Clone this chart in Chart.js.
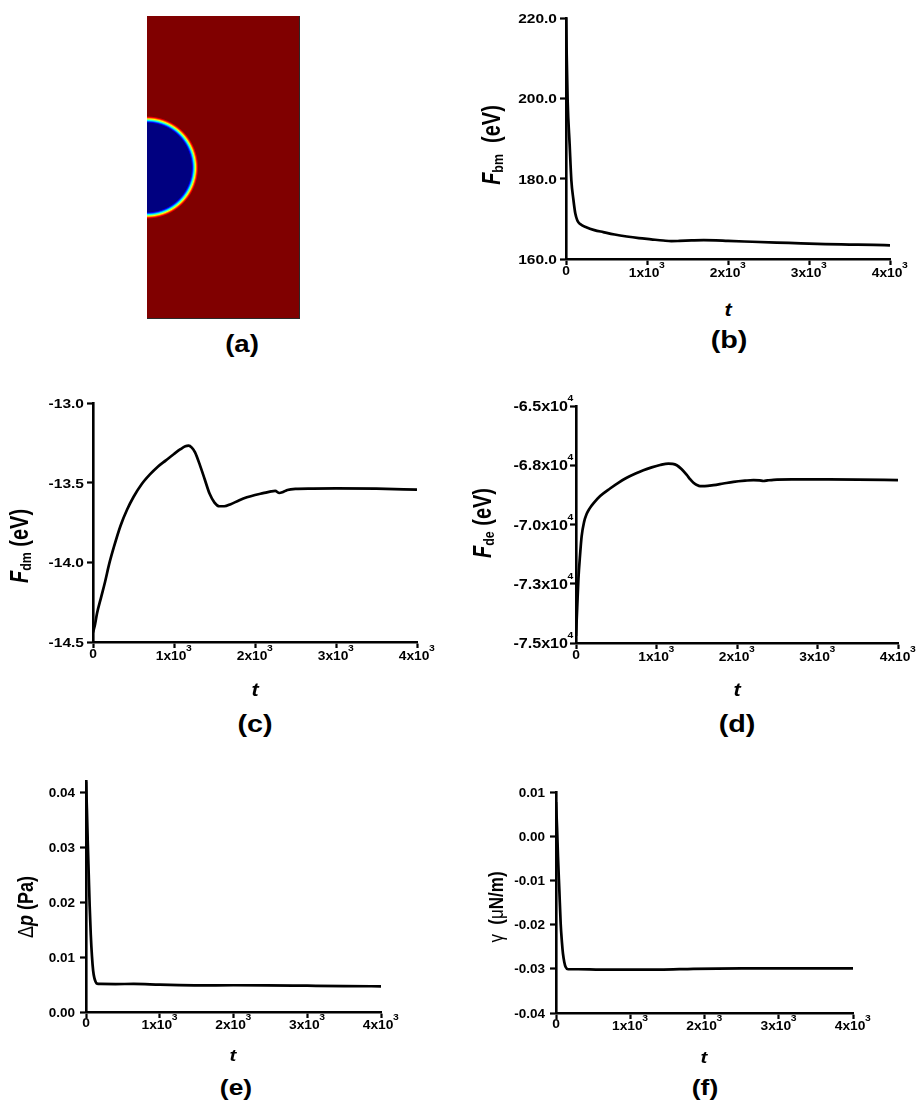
<!DOCTYPE html>
<html><head><meta charset="utf-8">
<script src="https://cdn.jsdelivr.net/npm/chart.js@4/dist/chart.umd.min.js"></script>
<style>
html,body{margin:0;padding:0;background:#fff;}
body{width:920px;height:1101px;overflow:hidden;position:relative;font-family:"Liberation Sans",Arial,sans-serif;color:#000;}
canvas{position:absolute;}
.lbl{position:absolute;width:0;height:0;transform-origin:0 0;}
.lbl span{position:absolute;left:0;top:0;white-space:nowrap;transform:translate(-50%,-50%);font-weight:bold;line-height:1;}
.lbl sub{font-size:0.62em;vertical-align:-0.2em;}
.lbl .g{font-weight:normal;}
</style></head><body>
<canvas id="ca" width="170" height="315" style="left:140px;top:10px"></canvas>
<canvas id="cb" width="450" height="300" style="left:470px;top:0px"></canvas>
<canvas id="cc" width="460" height="310" style="left:0px;top:380px"></canvas>
<canvas id="cd" width="460" height="310" style="left:460px;top:380px"></canvas>
<canvas id="ce" width="460" height="290" style="left:0px;top:760px"></canvas>
<canvas id="cf" width="460" height="290" style="left:460px;top:760px"></canvas>
<script>
// ---------------- DATA ----------------
// (a) phase field: bubble at the left wall of the domain
const domainX = [0, 1];
const domainY = [0, 2];
const bubbleCenter = [0, 1.0];
const bubbleRadius = 0.313;
const interfaceWidth = 0.046;

// shared time ticks
const timeTicks = [0, 1000, 2000, 3000, 4000];
const timeTickLabels = [["0",""], ["1x10","3"], ["2x10","3"], ["3x10","3"], ["4x10","3"]];

// (b) F_bm
const tB = [0, 20, 45, 66, 90, 115, 140, 175, 250, 350, 460, 600, 750, 900, 1050, 1200, 1300, 1400, 1550, 1700, 1850, 2000, 2300, 2600, 2900, 3200, 3500, 3800, 4000];
const fBm = [220, 199.5, 188.5, 179.6, 175.0, 171.3, 169.6, 168.7, 167.9, 167.2, 166.7, 166.1, 165.6, 165.2, 164.9, 164.6, 164.45, 164.5, 164.62, 164.7, 164.65, 164.5, 164.3, 164.1, 163.9, 163.7, 163.6, 163.5, 163.4];
const bTicksY = [160, 180, 200, 220];
const bTickLabelsY = [["160.0",""], ["180.0",""], ["200.0",""], ["220.0",""]];

// (c) F_dm
const tC = [0, 25, 50, 100, 150, 200, 260, 340, 420, 500, 600, 700, 800, 900, 1000, 1080, 1140, 1180, 1220, 1260, 1320, 1380, 1440, 1500, 1560, 1620, 1700, 1800, 1900, 2000, 2100, 2200, 2250, 2300, 2340, 2400, 2500, 2700, 3000, 3500, 4000];
const fDm = [-14.44, -14.39, -14.32, -14.22, -14.12, -14.01, -13.90, -13.77, -13.67, -13.59, -13.51, -13.45, -13.40, -13.36, -13.32, -13.29, -13.272, -13.268, -13.28, -13.31, -13.39, -13.48, -13.57, -13.625, -13.648, -13.648, -13.635, -13.612, -13.592, -13.577, -13.566, -13.555, -13.552, -13.565, -13.56, -13.546, -13.539, -13.537, -13.536, -13.538, -13.544];
const cTicksY = [-14.5, -14.0, -13.5, -13.0];
const cTickLabelsY = [["-14.5",""], ["-14.0",""], ["-13.5",""], ["-13.0",""]];

// (d) F_de
const tD = [0, 15, 30, 50, 70, 100, 133, 170, 216, 300, 423, 530, 630, 740, 837, 940, 1045, 1148, 1200, 1252, 1310, 1376, 1420, 1459, 1500, 1542, 1600, 1708, 1830, 1956, 2100, 2205, 2280, 2329, 2380, 2454, 2700, 3117, 3500, 4000];
const fDe = [-74700, -73500, -72300, -71300, -70500, -69900, -69550, -69320, -69110, -68800, -68480, -68230, -68030, -67850, -67710, -67590, -67490, -67430, -67440, -67500, -67660, -67910, -68100, -68240, -68330, -68380, -68380, -68340, -68270, -68200, -68150, -68125, -68140, -68165, -68140, -68113, -68100, -68099, -68105, -68127];
const dTicksY = [-75000, -72500, -70000, -67500, -65000];
const dTickLabelsY = [["-7.5x10","4"], ["-7.3x10","4"], ["-7.0x10","4"], ["-6.8x10","4"], ["-6.5x10","4"]];

// (e) Delta p
const tE = [0, 12, 23, 37, 50, 65, 81, 97, 113, 130, 149, 200, 400, 646, 1000, 1548, 2000, 2451, 3000, 3500, 4000];
const dP = [0.0419, 0.037, 0.0313, 0.025, 0.0192, 0.014, 0.0101, 0.0075, 0.0062, 0.0055, 0.00515, 0.0051, 0.00508, 0.0051, 0.00498, 0.00485, 0.00486, 0.00485, 0.00478, 0.00472, 0.00467];
const eTicksY = [0, 0.01, 0.02, 0.03, 0.04];
const eTickLabelsY = [["0.00",""], ["0.01",""], ["0.02",""], ["0.03",""], ["0.04",""]];

// (f) gamma
const tF = [0, 14, 27, 45, 63, 80, 94, 112, 130, 162, 300, 600, 949, 1399, 1849, 2500, 3200, 4000];
const gam = [0.0077, 0.0020, -0.0047, -0.0122, -0.0198, -0.0240, -0.0266, -0.0285, -0.0296, -0.0301, -0.0301, -0.0302, -0.0302, -0.0302, -0.0300, -0.0299, -0.0299, -0.0299];
const fTicksY = [-0.04, -0.03, -0.02, -0.01, 0.00, 0.01];
const fTickLabelsY = [["-0.04",""], ["-0.03",""], ["-0.02",""], ["-0.01",""], ["0.00",""], ["0.01",""]];

// ---------------- PLUGINS ----------------
const FONT = '"Liberation Sans", Arial, sans-serif';

const tickTextPlugin = {
  id: 'tickText',
  afterDraw(chart, args, opts) {
    const ctx = chart.ctx;
    ['x', 'y'].forEach(id => {
      const cfg = opts[id];
      if (!cfg) return;
      const scale = chart.scales[id];
      scale.ticks.forEach((t, i) => {
        const lab = cfg.labels[i];
        if (!lab) return;
        const pos = scale.getPixelForValue(t.value);
        ctx.save();
        ctx.fillStyle = '#000';
        ctx.textBaseline = 'alphabetic';
        ctx.textAlign = 'left';
        ctx.font = 'bold ' + cfg.size + 'px ' + FONT;
        const wb = ctx.measureText(lab[0]).width;
        let ws = 0;
        if (lab[1]) { ctx.font = 'bold ' + cfg.supSize + 'px ' + FONT; ws = ctx.measureText(lab[1]).width; }
        let x0, yb;
        if (id === 'x') {
          x0 = pos - (wb + ws) * cfg.stretch / 2;
          yb = scale.top + (lab[1] ? cfg.offset : cfg.offset0);
        } else {
          x0 = scale.right - cfg.offset - wb * cfg.stretch;
          yb = pos + cfg.size * 0.36;
        }
        ctx.translate(x0, yb);
        ctx.scale(cfg.stretch, 1);
        ctx.font = 'bold ' + cfg.size + 'px ' + FONT;
        ctx.fillText(lab[0], 0, 0);
        if (lab[1]) {
          ctx.font = 'bold ' + cfg.supSize + 'px ' + FONT;
          ctx.fillText(lab[1], wb - 0.5, -cfg.supRaise);
        }
        ctx.restore();
      });
    });
  }
};

const fieldPlugin = {
  id: 'field',
  beforeDatasetsDraw(chart, args, opts) {
    if (!opts || !opts.on) return;
    const {ctx, chartArea: a, scales: {x, y}} = chart;
    ctx.save();
    ctx.beginPath();
    ctx.rect(a.left, a.top, a.right - a.left, a.bottom - a.top);
    ctx.clip();
    ctx.fillStyle = '#800000';
    ctx.fillRect(a.left, a.top, a.right - a.left, a.bottom - a.top);
    const cx = x.getPixelForValue(bubbleCenter[0]);
    const cy = y.getPixelForValue(bubbleCenter[1]);
    const r = x.getPixelForValue(bubbleRadius) - x.getPixelForValue(0);
    const w = x.getPixelForValue(interfaceWidth) - x.getPixelForValue(0);
    const rIn = r - w / 2, rOut = r + w / 2;
    const R = rOut + 2;
    const g = ctx.createRadialGradient(cx, cy, 0, cx, cy, R);
    const f = v => (rIn + v * (rOut - rIn)) / R;
    g.addColorStop(0, '#000080');
    g.addColorStop(f(0), '#000080');
    g.addColorStop(f(0.15), '#0000ff');
    g.addColorStop(f(0.38), '#00ffff');
    g.addColorStop(f(0.6), '#ffff00');
    g.addColorStop(f(0.82), '#ff0000');
    g.addColorStop(f(1), '#800000');
    g.addColorStop(1, '#800000');
    ctx.fillStyle = g;
    ctx.beginPath();
    ctx.arc(cx, cy, R, 0, Math.PI * 2);
    ctx.fill();
    ctx.restore();
    ctx.save();
    ctx.strokeStyle = '#2a2a2a';
    ctx.lineWidth = 1;
    ctx.beginPath();
    ctx.moveTo(a.right - 0.5, a.top);
    ctx.lineTo(a.right - 0.5, a.bottom - 0.5);
    ctx.lineTo(a.left, a.bottom - 0.5);
    ctx.stroke();
    ctx.restore();
  }
};

Chart.register(tickTextPlugin, fieldPlugin);

// ---------------- CHARTS ----------------
function xy(xs, ys) { return xs.map((v, i) => ({x: v, y: ys[i]})); }

function makePanel(id, box, xs, ys, yMin, yMax, yTicks, yLabels, font) {
  const c = document.getElementById(id);
  const L = parseFloat(c.style.left), T = parseFloat(c.style.top);
  const W = c.width, H = c.height;
  const axisCommon = {
    border: {display: true, color: '#000', width: 2.6},
    grid: {display: true, drawOnChartArea: false, drawTicks: true, tickLength: 6, tickWidth: 2.2, tickColor: '#000', color: '#000'},
    ticks: {display: false}
  };
  return new Chart(c, {
    type: 'scatter',
    data: {datasets: [{
      data: xy(xs, ys), showLine: true, borderColor: '#000', borderWidth: 2.7,
      pointRadius: 0, cubicInterpolationMode: 'monotone', fill: false
    }]},
    options: {
      responsive: false, animation: false, events: [],
      layout: {padding: {top: box.y0 - T, right: L + W - box.x1, left: 0, bottom: 0}},
      plugins: {
        legend: {display: false}, tooltip: {enabled: false}, title: {display: false},
        tickText: {
          x: {labels: timeTickLabels, size: font.xs, supSize: font.sup, supRaise: font.xs * 0.74, stretch: font.st, offset: font.xoff, offset0: font.xoff - 2},
          y: {labels: yLabels, size: font.ys, supSize: font.sup, supRaise: font.ys * 0.7, stretch: font.yst, offset: font.yoff}
        }
      },
      scales: {
        x: Object.assign({}, axisCommon, {
          type: 'linear', min: 0, max: 4000,
          afterBuildTicks: s => { s.ticks = timeTicks.map(v => ({value: v})); },
          afterFit: s => { s.height = T + H - box.y1; }
        }),
        y: Object.assign({}, axisCommon, {
          type: 'linear', min: yMin, max: yMax,
          afterBuildTicks: s => { s.ticks = yTicks.map(v => ({value: v})); },
          afterFit: s => { s.width = box.x0 - L; }
        })
      }
    }
  });
}

// (a)
new Chart(document.getElementById('ca'), {
  type: 'scatter',
  data: {datasets: [{data: [{x: bubbleCenter[0], y: bubbleCenter[1]}], pointRadius: 0}]},
  options: {
    responsive: false, animation: false, events: [],
    layout: {padding: {left: 7, top: 6, right: 10, bottom: 6}},
    plugins: {legend: {display: false}, tooltip: {enabled: false}, field: {on: true}},
    scales: {
      x: {type: 'linear', min: domainX[0], max: domainX[1], display: false},
      y: {type: 'linear', min: domainY[0], max: domainY[1], display: false}
    }
  }
});

const fontBig = {xs: 12, ys: 13.5, sup: 9, st: 1.15, yst: 1.15, xoff: 18, yoff: 9};
const fontD = {xs: 12, ys: 14, sup: 9, st: 1.15, yst: 1.15, xoff: 18, yoff: 8};
const fontSm = {xs: 12, ys: 12.5, sup: 9, st: 1.15, yst: 1.08, xoff: 17, yoff: 11};

makePanel('cb', {x0: 566, x1: 890, y0: 18, y1: 259}, tB, fBm, 160, 220, bTicksY, bTickLabelsY, fontBig);
makePanel('cc', {x0: 93, x1: 417, y0: 403, y1: 642}, tC, fDm, -14.5, -13.0, cTicksY, cTickLabelsY, fontBig);
makePanel('cd', {x0: 576, x1: 898, y0: 406, y1: 643}, tD, fDe, -75000, -65000, dTicksY, dTickLabelsY, fontD);
makePanel('ce', {x0: 86, x1: 381, y0: 781, y1: 1012}, tE, dP, 0, 0.042, eTicksY, eTickLabelsY, fontSm);
makePanel('cf', {x0: 556, x1: 853, y0: 792, y1: 1013}, tF, gam, -0.04, 0.01, fTicksY, fTickLabelsY, fontSm);

// ---------------- TEXT LABELS ----------------
function label(cx, cy, html, size, rotate, stretch) {
  const d = document.createElement('div');
  d.className = 'lbl';
  d.style.left = cx + 'px';
  d.style.top = cy + 'px';
  d.style.transform = 'scaleX(' + stretch + ')' + (rotate ? ' rotate(-90deg)' : '');
  const s = document.createElement('span');
  s.style.fontSize = size + 'px';
  s.innerHTML = html;
  d.appendChild(s);
  document.body.appendChild(d);
}
// panel letters
label(242, 344, '(a)', 23, false, 1.2);
label(729, 340, '(b)', 23, false, 1.25);
label(255, 724, '(c)', 23, false, 1.25);
label(737, 724, '(d)', 23, false, 1.25);
label(236, 1088, '(e)', 22, false, 1.2);
label(705, 1088, '(f)', 22, false, 1.2);
// x titles
label(728, 310, '<i>t</i>', 18, false, 1.2);
label(255, 690, '<i>t</i>', 18, false, 1.2);
label(737, 690, '<i>t</i>', 18, false, 1.2);
label(233, 1055, '<i>t</i>', 17, false, 1.2);
label(704, 1057, '<i>t</i>', 17, false, 1.2);
// y titles
label(492, 145, '<i>F</i><sub>bm</sub>&nbsp;&nbsp;(eV)', 20, true, 1.25);
label(20, 546, '<i>F</i><sub>dm</sub> (eV)', 20, true, 1.25);
label(483, 523, '<i>F</i><sub>de</sub> (eV)', 20, true, 1.25);
label(26, 907, '<span class="g" style="position:static;transform:none">&Delta;</span><i>p</i> (Pa)', 18, true, 1.2);
label(496, 907, '<span class="g" style="position:static;transform:none">&gamma;</span>&nbsp;&nbsp;(<span class="g" style="position:static;transform:none">&mu;</span>N/m)', 17, true, 1.2);
</script>
</body></html>
